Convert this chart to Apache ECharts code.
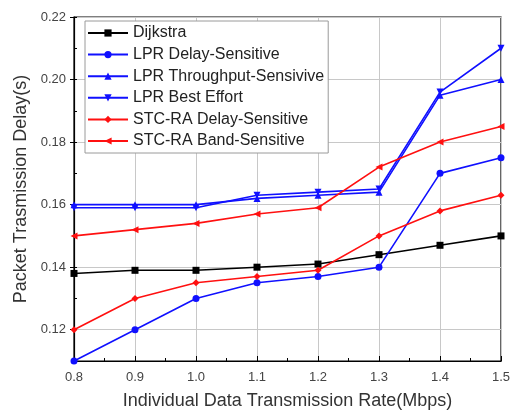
<!DOCTYPE html>
<html>
<head>
<meta charset="utf-8">
<script src="https://cdn.jsdelivr.net/npm/echarts@6/dist/echarts.min.js"></script>
<style>html,body{margin:0;padding:0;background:#fff}#c{width:511px;height:412px}</style>
</head>
<body>
<div id="c"></div>
<script>
const xValues = [0.8, 0.9, 1.0, 1.1, 1.2, 1.3, 1.4, 1.5];
const dijkstra = [0.138, 0.139, 0.139, 0.140, 0.141, 0.144, 0.147, 0.150];
const lprDelay = [0.110, 0.120, 0.130, 0.135, 0.137, 0.140, 0.170, 0.175];
const lprThroughput = [0.160, 0.160, 0.160, 0.162, 0.163, 0.164, 0.195, 0.200];
const lprBest = [0.159, 0.159, 0.159, 0.163, 0.164, 0.165, 0.196, 0.210];
const stcDelay = [0.120, 0.130, 0.135, 0.137, 0.139, 0.150, 0.158, 0.163];
const stcBand = [0.150, 0.152, 0.154, 0.157, 0.159, 0.172, 0.180, 0.185];
const yTicks = [0.12, 0.14, 0.16, 0.18, 0.20, 0.22];
const seriesNames = ['Dijkstra', 'LPR Delay-Sensitive', 'LPR Throughput-Sensivive', 'LPR Best Effort', 'STC-RA Delay-Sensitive', 'STC-RA Band-Sensitive'];

const font = 'Liberation Sans, Arial, sans-serif';
function pairs(arr) { return xValues.map((x, i) => [x, arr[i]]); }
function mk(name, data, color, symbol, rotate) {
  return {
    name: name, type: 'line', data: pairs(data),
    symbol: symbol, symbolSize: 7, symbolRotate: rotate || 0,
    lineStyle: { color: color, width: 1.6 },
    itemStyle: { color: color },
    animation: false
  };
}
const chart = echarts.init(document.getElementById('c'), null, { renderer: 'canvas' });
chart.setOption({
  backgroundColor: '#fff',
  animation: false,
  grid: { left: 74, right: 10, top: 17, bottom: 51, outerBoundsMode: 'none', containLabel: false, show: true, borderColor: '#000', borderWidth: 1.2, backgroundColor: 'transparent' },
  legend: {
    orient: 'vertical', left: 85, top: 21, padding: [4, 4, 4, 2],
    itemWidth: 40, itemHeight: 9, itemGap: 5.6,
    borderColor: '#9a9a9a', borderWidth: 1, backgroundColor: '#fff',
    textStyle: { fontFamily: font, fontSize: 16, lineHeight: 16, color: '#222' },
    data: seriesNames
  },
  xAxis: {
    type: 'value', min: 0.8, max: 1.5, interval: 0.1,
    name: 'Individual Data Transmission Rate(Mbps)', nameLocation: 'middle', nameGap: 31,
    nameTextStyle: { fontFamily: font, fontSize: 18, color: '#333' },
    axisLine: { lineStyle: { color: '#000', width: 1.2 } },
    axisTick: { inside: true, length: 5, lineStyle: { color: '#000' } },
    minorTick: { show: true, splitNumber: 2, length: 3, lineStyle: { color: '#000' } },
    axisLabel: { fontFamily: font, fontSize: 13, color: '#444', margin: 10, formatter: v => v.toFixed(1) },
    splitLine: { show: true, lineStyle: { color: '#c8c8c8', width: 1 } }
  },
  yAxis: [{
    type: 'value', min: 0.11, max: 0.22,
    name: 'Packet Trasmission Delay(s)', nameLocation: 'middle', nameGap: 43,
    nameTextStyle: { fontFamily: font, fontSize: 18, color: '#333' },
    axisLine: { show: true, lineStyle: { color: '#000', width: 1.2 } },
    axisTick: { show: true, length: 4, customValues: yTicks, lineStyle: { color: '#000' } },
    axisLabel: { fontFamily: font, fontSize: 13, color: '#444', margin: 8, customValues: yTicks, formatter: v => v.toFixed(2) },
    splitLine: { show: true, lineStyle: { color: '#c8c8c8', width: 1 } }
  }, {
    type: 'value', min: 0.11, max: 0.22, interval: 0.01, position: 'left',
    axisLine: { show: false }, axisLabel: { show: false }, splitLine: { show: false },
    axisTick: { show: true, inside: true, length: 3, lineStyle: { color: '#000' } }
  }],
  series: [
    mk(seriesNames[0], dijkstra, '#000000', 'rect'),
    mk(seriesNames[1], lprDelay, '#1010ff', 'circle'),
    mk(seriesNames[2], lprThroughput, '#1010ff', 'triangle'),
    mk(seriesNames[3], lprBest, '#1010ff', 'triangle', 180),
    mk(seriesNames[4], stcDelay, '#ff1010', 'diamond'),
    mk(seriesNames[5], stcBand, '#ff1010', 'triangle', 90)
  ]
});
</script>
</body>
</html>
